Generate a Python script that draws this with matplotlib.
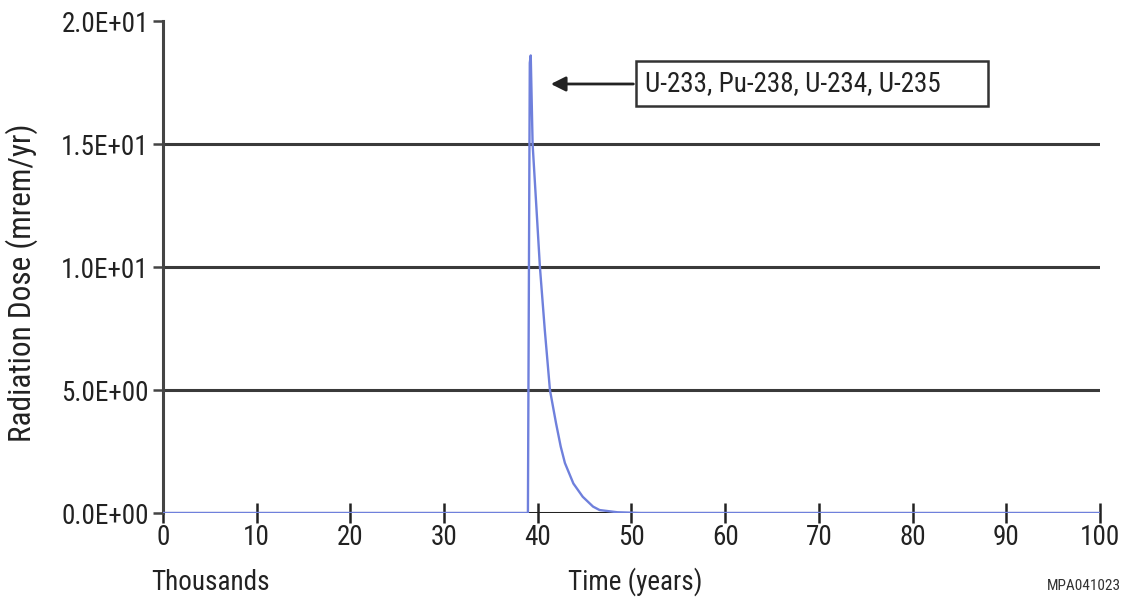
import matplotlib
matplotlib.use("Agg")
import matplotlib.pyplot as plt
from matplotlib.patches import Rectangle

plt.rcParams['font.family'] = ['Roboto Condensed', 'Archivo Narrow',
                               'Open Sans Condensed', 'DejaVu Sans']

# time in thousands of years, dose in mrem/yr
time_k = [0, 38.95, 39.15, 39.25, 39.45, 39.85, 40.23, 40.75, 41.3, 41.95,
          42.45, 42.9, 43.8, 44.8, 45.9, 46.6, 48.5, 51.0, 100]
dose = [0, 0, 18.3, 18.6, 15.0, 12.45, 10.0, 7.44, 5.0, 3.65,
        2.7, 2.03, 1.2, 0.66, 0.26, 0.12, 0.03, 0, 0]

yticks = [0, 5, 10, 15, 20]
ytick_labels = ['0.0E+00', '5.0E+00', '1.0E+01', '1.5E+01', '2.0E+01']
xticks = list(range(0, 101, 10))
label_text = 'U-233, Pu-238, U-234, U-235'

fs = 19.5

fig = plt.figure(figsize=(11.23, 5.97), dpi=100)
ax = fig.add_axes([0.1451, 0.1407, 0.8344, 0.8241])

for v in yticks[1:-1]:
    ax.axhline(v, color='#3a3a3a', lw=2.2, zorder=1)
ax.axhline(0, color='#222222', lw=2.2, zorder=1)

ax.plot(time_k, dose, color='#6f80dc', lw=1.7, zorder=3)

ax.set_xlim(0, 100)
ax.set_ylim(0, 20)
ax.set_xticks(xticks)
ax.set_yticks(yticks)
ax.set_yticklabels(ytick_labels)

for s in ['top', 'right', 'bottom']:
    ax.spines[s].set_visible(False)
ax.spines['left'].set_color('#444444')
ax.spines['left'].set_linewidth(2.2)

ax.tick_params(axis='x', direction='inout', length=14, width=1.8,
               colors='#222222', labelsize=fs, pad=1)
ax.tick_params(axis='y', direction='out', length=7, width=1.8,
               colors='#444444', labelsize=fs, labelcolor='#222222', pad=3)

ax.set_ylabel('Radiation Dose (mrem/yr)', fontsize=22.5, color='#222222')
ax.yaxis.set_label_coords(-0.133, 0.467)

fig.text(0.135, 0.012, 'Thousands', fontsize=fs, color='#222222', va='baseline')
fig.text(0.566, 0.012, 'Time (years)', fontsize=fs, color='#222222',
         ha='center', va='baseline')
fig.text(0.998, 0.012, 'MPA041023', fontsize=11, color='#333333',
         ha='right', va='baseline')

# callout box with arrow
ax.add_patch(Rectangle((50.5, 16.54), 37.6, 1.83, fill=False,
                       ec='#333333', lw=1.8, clip_on=False, zorder=4))
ax.text(51.4, 17.44, label_text, fontsize=fs, color='#222222',
        va='center', ha='left', zorder=5)
ax.annotate('', xy=(41.1, 17.44), xytext=(50.5, 17.44),
            arrowprops=dict(arrowstyle='-|>', color='#222222', lw=2,
                            mutation_scale=22), zorder=5)

fig.savefig('out.png', dpi=100)
